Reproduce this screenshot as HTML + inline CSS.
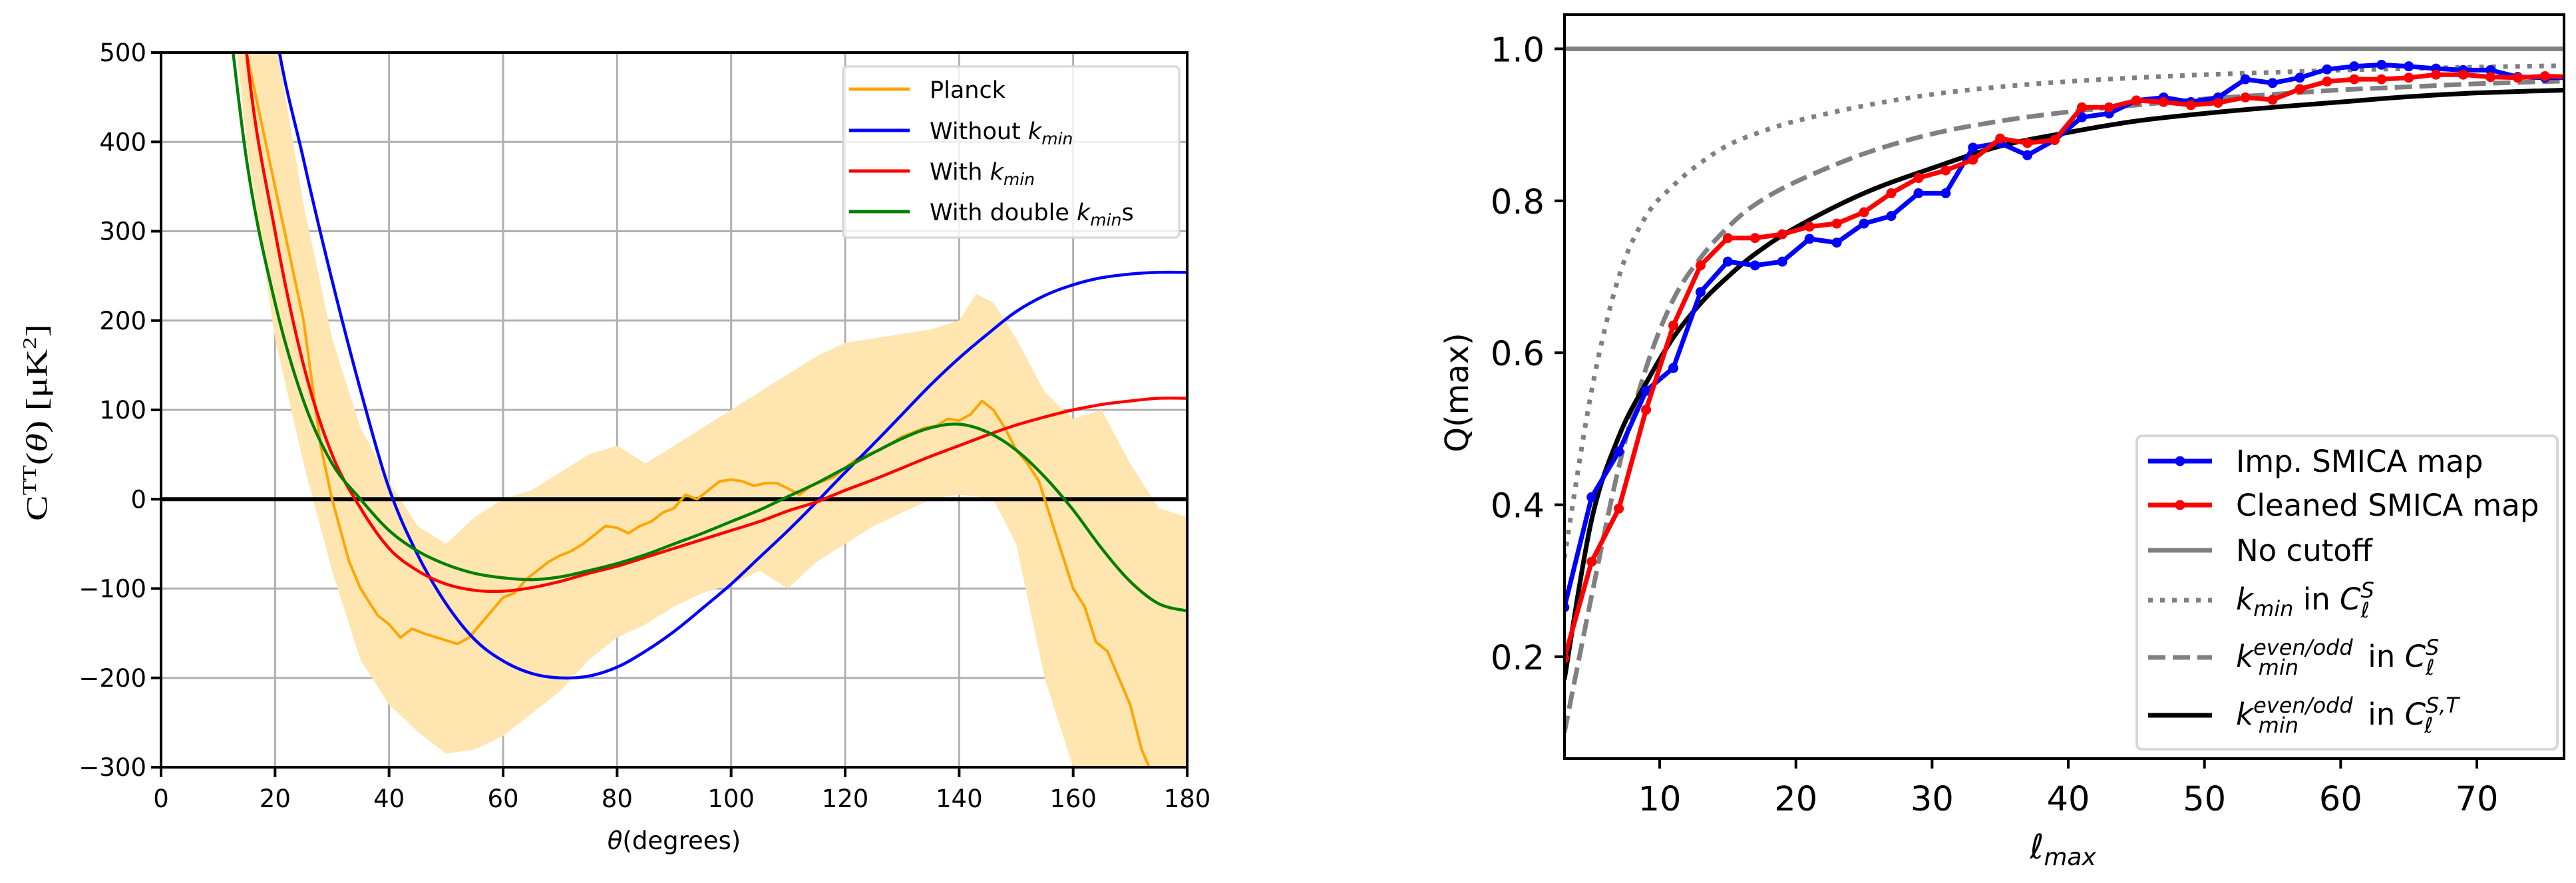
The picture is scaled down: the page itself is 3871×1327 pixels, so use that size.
<!DOCTYPE html>
<html><head><meta charset="utf-8"><style>
html,body{margin:0;padding:0;background:#fff;}
svg{display:block;font-family:"DejaVu Sans","Liberation Sans",sans-serif;}
</style></head><body>
<svg id="fig" width="3871" height="1327" viewBox="0 0 3871 1327" xmlns="http://www.w3.org/2000/svg">
<defs>
<clipPath id="clipL"><rect x="242" y="79" width="1542" height="1074"/></clipPath>
<clipPath id="clipR"><rect x="2351" y="22" width="1502" height="1118"/></clipPath>
</defs>
<g id="left"></g>
<g id="right"></g>
</svg>
<script>
// ---------- LEFT CHART DATA ----------
const thetaSmooth = [10,15,20,25,30,35,40,45,50,55,60,65,70,75,80,85,90,95,100,105,110,115,120,125,130,135,140,145,150,155,160,165,170,175,180];
const withoutKmin = [1250,800,530,380,245,122,12,-62,-117,-157,-181,-195,-200,-198,-188,-170,-148,-122,-95,-65,-35,-3,30,62,95,128,158,185,210,228,240,248,252,254,254];
const withKmin = [900,500,300,150,50,-10,-55,-80,-95,-102,-103,-99,-92,-83,-75,-65,-55,-45,-35,-25,-13,-3,10,22,35,48,60,72,83,92,100,106,110,113,113];
const withDouble = [650,380,220,110,40,0,-35,-58,-73,-83,-88,-90,-87,-80,-72,-62,-50,-38,-25,-12,3,18,35,52,68,80,84,75,55,25,-12,-55,-92,-117,-125];
const thetaPlanck = [15,20,25,28,30,33,35,38,40,42,44,46,50,52,54,56,58,60,62,64,66,68,70,72,74,76,78,80,82,84,86,88,90,92,94,96,98,100,102,104,106,108,110,112,114,116,118,120,122,124,126,128,130,132,134,136,138,140,142,144,146,148,150,152,154,156,158,160,162,164,166,168,170,172,174];
const planck = [500,350,200,60,0,-70,-100,-130,-140,-155,-145,-150,-158,-162,-155,-140,-125,-110,-105,-90,-80,-70,-63,-58,-50,-40,-30,-32,-38,-30,-25,-15,-10,5,0,10,20,22,20,15,18,18,12,5,15,20,25,35,45,50,55,62,70,75,80,82,90,88,95,110,100,80,55,40,20,-20,-60,-100,-120,-160,-170,-200,-230,-280,-310];
const thetaBand = [10,15,20,25,30,35,40,45,50,55,60,65,70,75,80,85,90,95,100,105,110,115,120,125,130,135,140,143,146,150,155,160,165,170,175,180];
const bandUpper = [700,600,520,330,180,80,20,-30,-50,-20,0,10,30,50,60,40,60,80,100,120,140,160,175,180,185,190,200,230,220,180,120,90,100,40,-10,-20];
const bandLower = [700,400,180,40,-80,-180,-230,-260,-285,-280,-265,-240,-215,-180,-155,-140,-120,-105,-95,-80,-100,-70,-50,-30,-15,0,5,3,0,-50,-200,-300,-400,-450,-450,-450];
const xTicksL = [0,20,40,60,80,100,120,140,160,180];
const yTicksL = [-300,-200,-100,0,100,200,300,400,500];

// ---------- RIGHT CHART DATA ----------
const ellPts = [3,5,7,9,11,13,15,17,19,21,23,25,27,29,31,33,35,37,39,41,43,45,47,49,51,53,55,57,59,61,63,65,67,69,71,73,75,77];
const impSmica = [0.265,0.41,0.47,0.55,0.58,0.68,0.72,0.715,0.72,0.75,0.745,0.77,0.78,0.81,0.81,0.87,0.876,0.86,0.88,0.91,0.915,0.932,0.936,0.93,0.936,0.96,0.955,0.962,0.973,0.977,0.979,0.977,0.974,0.972,0.972,0.963,0.962,0.962];
const cleanedSmica = [0.198,0.325,0.395,0.525,0.636,0.715,0.751,0.751,0.756,0.766,0.77,0.785,0.81,0.83,0.84,0.854,0.882,0.876,0.88,0.923,0.923,0.932,0.93,0.926,0.929,0.936,0.933,0.947,0.957,0.96,0.96,0.962,0.966,0.966,0.963,0.962,0.964,0.963];
const ellSmooth = [3,5,7,9,11,13,15,17,20,25,30,35,40,45,50,55,60,65,70,77];
const kminCS = [0.33,0.55,0.70,0.78,0.82,0.85,0.873,0.888,0.905,0.925,0.94,0.95,0.957,0.962,0.966,0.969,0.972,0.974,0.976,0.978];
const kminEvenCS = [0.10,0.28,0.45,0.58,0.67,0.725,0.765,0.795,0.825,0.862,0.888,0.905,0.917,0.926,0.934,0.94,0.946,0.95,0.954,0.958];
const kminEvenCST = [0.17,0.38,0.49,0.56,0.62,0.665,0.70,0.73,0.765,0.81,0.843,0.872,0.89,0.905,0.915,0.923,0.93,0.937,0.942,0.946];
const noCutoff = [1.0];
const xTicksR = [10,20,30,40,50,60,70];
const yTicksR = [0.2,0.4,0.6,0.8,1.0];

const NS = "http://www.w3.org/2000/svg";
function mk(tag, attrs, parent){ const e=document.createElementNS(NS,tag); for(const k in attrs) e.setAttribute(k,attrs[k]); parent.appendChild(e); return e; }
function smooth(pts){
  let d="M"+pts[0][0].toFixed(1)+","+pts[0][1].toFixed(1);
  for(let i=0;i<pts.length-1;i++){
    const p0=pts[Math.max(0,i-1)],p1=pts[i],p2=pts[i+1],p3=pts[Math.min(pts.length-1,i+2)];
    const c1=[p1[0]+(p2[0]-p0[0])/6,p1[1]+(p2[1]-p0[1])/6];
    const c2=[p2[0]-(p3[0]-p1[0])/6,p2[1]-(p3[1]-p1[1])/6];
    d+=" C"+c1[0].toFixed(1)+","+c1[1].toFixed(1)+" "+c2[0].toFixed(1)+","+c2[1].toFixed(1)+" "+p2[0].toFixed(1)+","+p2[1].toFixed(1);
  }
  return d;
}
function poly(pts){ return "M"+pts.map(p=>p[0].toFixed(1)+","+p[1].toFixed(1)).join(" L"); }

// ---------- LEFT ----------
(function(){
  const g=document.getElementById("left");
  const X0=242,X1=1784,Y0=79,Y1=1153;
  const xs=v=>X0+(v-0)/180*(X1-X0);
  const ys=v=>Y1-(v+300)/800*(Y1-Y0);
  const grid=mk("g",{},g);
  
  
  xTicksL.forEach(t=>{ mk("line",{x1:xs(t),x2:xs(t),y1:Y0,y2:Y1,stroke:"#b0b0b0","stroke-width":3},grid); });
  yTicksL.forEach(t=>{ mk("line",{x1:X0,x2:X1,y1:ys(t),y2:ys(t),stroke:"#b0b0b0","stroke-width":3},grid); });
  const plot=mk("g",{"clip-path":"url(#clipL)"},g);
  const up=thetaBand.map((t,i)=>[xs(t),ys(bandUpper[i])]);
  const lo=thetaBand.map((t,i)=>[xs(t),ys(bandLower[i])]).reverse();
  const band=mk("path",{d:poly(up.concat(lo))+" Z",fill:"#ffe5b0",stroke:"none"},plot);
  
  
  const z=mk("line",{x1:X0,x2:X1,y1:ys(0),y2:ys(0),stroke:"#000","stroke-width":6},plot);
  
  
  const pl=mk("path",{d:poly(thetaPlanck.map((t,i)=>[xs(t),ys(planck[i])])),fill:"none",stroke:"#ffa500","stroke-width":4,"stroke-linejoin":"round"},plot);
  
  
  [[withoutKmin,"#0000ff","without-kmin-line"],[withKmin,"#ff0000","with-kmin-line"],[withDouble,"#008000","with-double-kmin-line"]].forEach(s=>{
    const p=mk("path",{d:smooth(thetaSmooth.map((t,i)=>[xs(t),ys(s[0][i])])),fill:"none",stroke:s[1],"stroke-width":4.5},plot);
    
    
  });
  const fr=mk("rect",{x:X0,y:Y0,width:X1-X0,height:Y1-Y0,fill:"none",stroke:"#000","stroke-width":4},g);
  
  
  xTicksL.forEach(t=>{
    mk("line",{x1:xs(t),x2:xs(t),y1:Y1,y2:Y1+15,stroke:"#000","stroke-width":4},g);
    const tx=mk("text",{x:xs(t),y:Y1+60,"font-size":37,"text-anchor":"middle",fill:"#000"},g);
    tx.textContent=t;
    
    
  });
  yTicksL.forEach(t=>{
    mk("line",{x1:X0-15,x2:X0,y1:ys(t),y2:ys(t),stroke:"#000","stroke-width":4},g);
    const tx=mk("text",{x:X0-22,y:ys(t)+13,"font-size":37,"text-anchor":"end",fill:"#000"},g);
    tx.textContent=(t<0?"\u2212"+(-t):t);
    
    
  });
})();

// ---------- RIGHT ----------
(function(){
  const g=document.getElementById("right");
  const X0=2351,X1=3853,Y0=22,Y1=1140;
  const XMIN=3.01, XMAX=76.4, YMIN=0.066, YMAX=1.045;
  const xs=v=>X0+(v-XMIN)/(XMAX-XMIN)*(X1-X0);
  const ys=v=>Y1-(v-YMIN)/(YMAX-YMIN)*(Y1-Y0);
  const plot=mk("g",{"clip-path":"url(#clipR)"},g);
  const nc=mk("line",{x1:X0,x2:X1,y1:ys(noCutoff[0]),y2:ys(noCutoff[0]),stroke:"#808080","stroke-width":7},plot);
  
  
  const a=mk("path",{d:smooth(ellSmooth.map((l,i)=>[xs(l),ys(kminCS[i])])),fill:"none",stroke:"#808080","stroke-width":7,"stroke-dasharray":"7 11"},plot);
  
  
  const b=mk("path",{d:smooth(ellSmooth.map((l,i)=>[xs(l),ys(kminEvenCS[i])])),fill:"none",stroke:"#808080","stroke-width":7,"stroke-dasharray":"26 11"},plot);
  
  
  const c=mk("path",{d:smooth(ellSmooth.map((l,i)=>[xs(l),ys(kminEvenCST[i])])),fill:"none",stroke:"#000","stroke-width":7},plot);
  
  
  [[impSmica,"#0000ff","imp-smica-line"],[cleanedSmica,"#ff0000","cleaned-smica-line"]].forEach(s=>{
    const pts=ellPts.map((l,i)=>[xs(l),ys(s[0][i])]);
    const p=mk("path",{d:poly(pts),fill:"none",stroke:s[1],"stroke-width":7,"stroke-linejoin":"round"},plot);
    
    
    pts.forEach(q=>{
      const m=mk("circle",{cx:q[0],cy:q[1],r:7.5,fill:s[1]},plot);
      
      
    });
  });
  const fr=mk("rect",{x:X0,y:Y0,width:X1-X0,height:Y1-Y0,fill:"none",stroke:"#000","stroke-width":4},g);
  
  
  xTicksR.forEach(t=>{
    mk("line",{x1:xs(t),x2:xs(t),y1:Y1,y2:Y1+15,stroke:"#000","stroke-width":4},g);
    const tx=mk("text",{x:xs(t),y:Y1+78,"font-size":51,"text-anchor":"middle",fill:"#000"},g);
    tx.textContent=t;
    
    
  });
  yTicksR.forEach(t=>{
    mk("line",{x1:X0-15,x2:X0,y1:ys(t),y2:ys(t),stroke:"#000","stroke-width":4},g);
    const tx=mk("text",{x:X0-30,y:ys(t)+19,"font-size":51,"text-anchor":"end",fill:"#000"},g);
    tx.textContent=t.toFixed(1);
    
    
  });
})();
</script>

<svg style="position:absolute;left:0;top:0" width="3871" height="1327" viewBox="0 0 3871 1327" xmlns="http://www.w3.org/2000/svg" font-family="DejaVu Sans, Liberation Sans, sans-serif">
  <!-- left labels -->
  <text transform="translate(70,635) rotate(-90)" text-anchor="middle" font-family="Liberation Serif, serif" font-size="44" textLength="296" lengthAdjust="spacingAndGlyphs">C<tspan font-size="28" dy="-16">TT</tspan><tspan dy="16">(</tspan><tspan font-style="italic">θ</tspan>) [μK<tspan font-size="28" dy="-16">2</tspan><tspan dy="16">]</tspan></text>
  <text x="1013" y="1276" text-anchor="middle" font-size="37"><tspan font-style="italic">θ</tspan>(degrees)</text>
  <!-- left legend -->
  <g>
    <rect x="1267" y="100" width="505" height="257" rx="6" fill="#fff" fill-opacity="0.8" stroke="#d6d6d6" stroke-width="3"/>
    <line x1="1276" y1="134" x2="1367" y2="134" stroke="#ffa500" stroke-width="5"/>
    <text x="1397" y="147" font-size="35">Planck</text>
    <line x1="1276" y1="196" x2="1367" y2="196" stroke="#0000ff" stroke-width="5"/>
    <text x="1397" y="209" font-size="35">Without <tspan font-style="italic">k</tspan><tspan font-style="italic" font-size="25" dy="8">min</tspan></text>
    <line x1="1276" y1="257" x2="1367" y2="257" stroke="#ff0000" stroke-width="5"/>
    <text x="1397" y="270" font-size="35">With <tspan font-style="italic">k</tspan><tspan font-style="italic" font-size="25" dy="8">min</tspan></text>
    <line x1="1276" y1="318" x2="1367" y2="318" stroke="#008000" stroke-width="5"/>
    <text x="1397" y="331" font-size="35">With double <tspan font-style="italic">k</tspan><tspan font-style="italic" font-size="25" dy="8">min</tspan><tspan dy="-8">s</tspan></text>
  </g>
  <!-- right labels -->
  <text transform="translate(2206,590) rotate(-90)" text-anchor="middle" font-size="48">Q(max)</text>
  <text x="3100" y="1290" text-anchor="middle" font-size="51" font-style="italic">ℓ<tspan font-size="36" dy="10">max</tspan></text>
  <!-- right legend -->
  <g>
    <rect x="3211" y="655" width="632" height="471" rx="8" fill="#fff" fill-opacity="0.8" stroke="#d6d6d6" stroke-width="4"/>
    <line x1="3228" y1="693" x2="3324" y2="693" stroke="#0000ff" stroke-width="7"/><circle cx="3276" cy="693" r="7.5" fill="#0000ff"/>
    <text x="3360" y="709" font-size="45">Imp. SMICA map</text>
    <line x1="3228" y1="759" x2="3324" y2="759" stroke="#ff0000" stroke-width="7"/><circle cx="3276" cy="759" r="7.5" fill="#ff0000"/>
    <text x="3360" y="775" font-size="45">Cleaned SMICA map</text>
    <line x1="3228" y1="827" x2="3324" y2="827" stroke="#808080" stroke-width="7"/>
    <text x="3360" y="843" font-size="45">No cutoff</text>
    <line x1="3228" y1="902" x2="3324" y2="902" stroke="#808080" stroke-width="7" stroke-dasharray="7 11"/>
    <text x="3360" y="916" font-size="45"><tspan font-style="italic">k</tspan><tspan font-style="italic" font-size="32" dy="10">min</tspan><tspan dy="-10"> in </tspan><tspan font-style="italic">C</tspan><tspan font-style="italic" font-size="32" dy="-18">S</tspan><tspan font-style="italic" font-size="32" dx="-20" dy="30">ℓ</tspan></text>
    <line x1="3228" y1="988" x2="3324" y2="988" stroke="#808080" stroke-width="7" stroke-dasharray="26 11"/>
    <text x="3360" y="1002" font-size="45"><tspan font-style="italic">k</tspan><tspan font-style="italic" font-size="32" dy="-18">even/odd</tspan><tspan font-style="italic" font-size="32" dx="-142" dy="30">min</tspan><tspan dx="90" dy="-12"> in </tspan><tspan font-style="italic">C</tspan><tspan font-style="italic" font-size="32" dy="-18">S</tspan><tspan font-style="italic" font-size="32" dx="-20" dy="30">ℓ</tspan></text>
    <line x1="3228" y1="1075" x2="3324" y2="1075" stroke="#000" stroke-width="7"/>
    <text x="3360" y="1089" font-size="45"><tspan font-style="italic">k</tspan><tspan font-style="italic" font-size="32" dy="-18">even/odd</tspan><tspan font-style="italic" font-size="32" dx="-142" dy="30">min</tspan><tspan dx="90" dy="-12"> in </tspan><tspan font-style="italic">C</tspan><tspan font-style="italic" font-size="32" dy="-18">S,T</tspan><tspan font-style="italic" font-size="32" dx="-52" dy="30">ℓ</tspan></text>
  </g>
</svg>
</body></html>
